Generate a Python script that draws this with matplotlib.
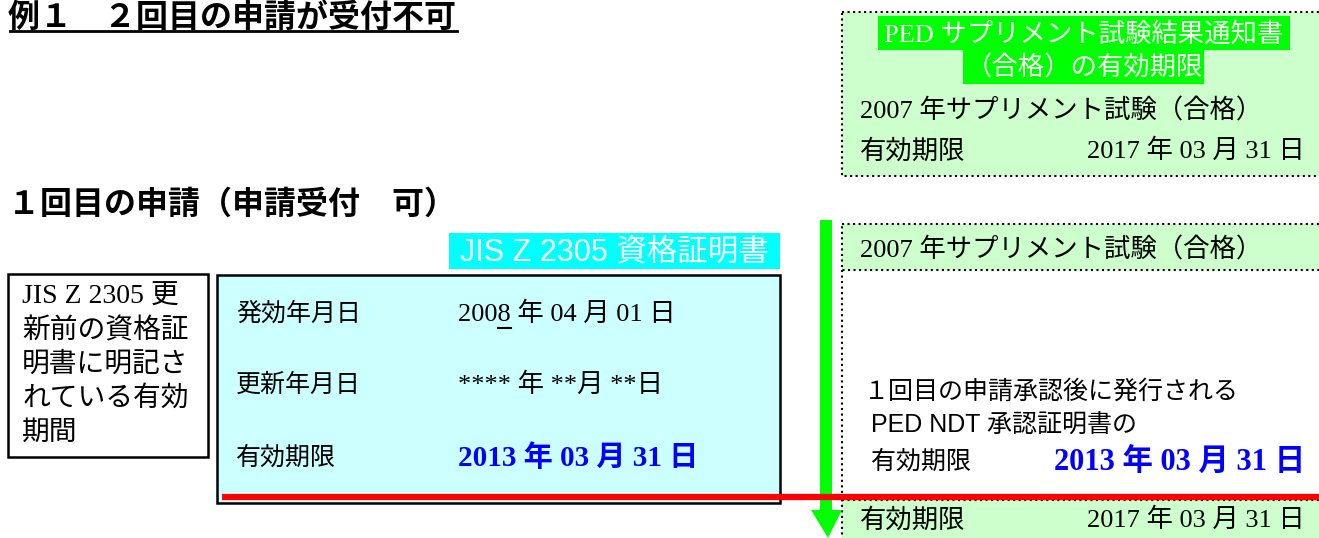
import matplotlib.pyplot as plt
from matplotlib.patches import Rectangle, Polygon

# texts of the diagram
title = "例１　２回目の申請が受付不可"
subtitle = "１回目の申請（申請受付　可）"
supp_head = ["PED サプリメント試験結果通知書", "（合格）の有効期限"]
supp_exam = "2007 年サプリメント試験（合格）"
supp_limit_label = "有効期限"
supp_limit = "2017 年 03 月 31 日"
cert_title = "JIS Z 2305 資格証明書"
note_lines = ["JIS Z 2305 更", "新前の資格証", "明書に明記さ", "れている有効", "期間"]
cert_labels = ["発効年月日", "更新年月日", "有効期限"]
cert_values = ["2008 年 04 月 01 日", "**** 年 **月 **日", "2013 年 03 月 31 日"]
ped_lines = ["１回目の申請承認後に発行される", " PED NDT 承認証明書の", " 有効期限"]
ped_limit = "2013 年 03 月 31 日"

SERIF = ["Liberation Serif", "Noto Sans CJK JP"]
GOTHIC = ["Liberation Sans", "Noto Sans CJK JP"]
LGREEN = "#ccffcc"
LCYAN = "#ccffff"

fig = plt.figure(figsize=(13.19, 5.38), dpi=100)
ax = fig.add_axes([0, 0, 1, 1])
ax.set_xlim(0, 1319)
ax.set_ylim(538, 0)
ax.axis("off")

# headings
ax.text(8, 19, title, family=GOTHIC, fontsize=23, fontweight="bold", va="center")
ax.plot([10, 457], [31, 31], color="black", lw=2)
ax.text(8, 205, subtitle, family=GOTHIC, fontsize=23, fontweight="bold", va="center")

# top right box: supplement exam result
ax.add_patch(Rectangle((842, 12), 500, 164, facecolor=LGREEN, edgecolor="black", lw=1.5, ls=":"))
ax.add_patch(Rectangle((878, 16), 412, 34, facecolor="#00ff00", edgecolor="none"))
ax.add_patch(Rectangle((963, 50), 241, 34, facecolor="#00ff00", edgecolor="none"))
ax.text(1084, 34, supp_head[0], family=SERIF, fontsize=19, color="white", ha="center", va="center")
ax.text(1084, 68, supp_head[1], family=SERIF, fontsize=19, color="white", ha="center", va="center")
ax.text(860, 111, supp_exam, family=SERIF, fontsize=19, va="center")
ax.text(860, 151, supp_limit_label, family=SERIF, fontsize=19, va="center")
ax.text(1305, 151, supp_limit, family=SERIF, fontsize=19, va="center", ha="right")

# JIS certificate title
ax.add_patch(Rectangle((449, 233), 331, 36, facecolor="#00ffff", edgecolor="none"))
ax.text(614, 252, cert_title, family=GOTHIC, fontsize=22, color="white", ha="center", va="center")

# left note box
ax.add_patch(Rectangle((8, 274), 200, 183, facecolor="white", edgecolor="black", lw=1.8))
for i, line in enumerate(note_lines):
    ax.text(22, 297 + i * 34, line, family=SERIF, fontsize=20, va="center")

# certificate box
ax.add_patch(Rectangle((217, 275), 563, 228, facecolor=LCYAN, edgecolor="black", lw=1.8))
row_y = [314, 385, 458]
for i, (lab, val) in enumerate(zip(cert_labels, cert_values)):
    ax.text(236, row_y[i], lab, family=SERIF, fontsize=18, va="center")
    if i == 2:
        ax.text(458, row_y[i], val, family=SERIF, fontsize=21, va="center",
                color="#0000ff", fontweight="bold")
    else:
        ax.text(458, row_y[i], val, family=SERIF, fontsize=19, va="center")

# underline the last digit of the issue year
r = fig.canvas.get_renderer()
t1 = ax.text(458, row_y[0], cert_values[0][:3], family=SERIF, fontsize=19, va="center", alpha=0)
t2 = ax.text(458, row_y[0], cert_values[0][:4], family=SERIF, fontsize=19, va="center", alpha=0)
x0 = ax.transData.inverted().transform(t1.get_window_extent(r).p1)[0]
x1 = ax.transData.inverted().transform(t2.get_window_extent(r).p1)[0]
ax.plot([x0, x1], [328, 328], color="black", lw=1.5)

# right column boxes
ax.add_patch(Rectangle((842, 224), 500, 46, facecolor=LGREEN, edgecolor="black", lw=1.5, ls=":"))
ax.text(860, 250, supp_exam, family=SERIF, fontsize=19, va="center")
ax.plot([842, 842], [270, 497], color="black", lw=1.5, ls=":")
ax.text(864, 392, ped_lines[0], family=GOTHIC, fontsize=18, va="center")
ax.text(864, 425, ped_lines[1], family=GOTHIC, fontsize=18, va="center")
ax.text(864, 462, ped_lines[2], family=GOTHIC, fontsize=18, va="center")
ax.text(1305, 462, ped_limit, family=SERIF, fontsize=22, va="center", ha="right",
        color="#0000ff", fontweight="bold")
ax.add_patch(Rectangle((842, 500), 500, 50, facecolor=LGREEN, edgecolor="black", lw=1.5, ls=":"))
ax.text(860, 520, supp_limit_label, family=SERIF, fontsize=19, va="center")
ax.text(1305, 520, supp_limit, family=SERIF, fontsize=19, va="center", ha="right")

# green arrow and red limit line
ax.add_patch(Rectangle((820, 220), 12, 292, facecolor="#00ff00", edgecolor="none"))
ax.add_patch(Polygon([(811, 510), (842, 510), (828, 538)], closed=True,
                     facecolor="#00ff00", edgecolor="none"))
ax.plot([222, 1319], [497, 497], color="#ff0000", lw=4.5, solid_capstyle="butt")

fig.savefig("out.png", dpi=100)
